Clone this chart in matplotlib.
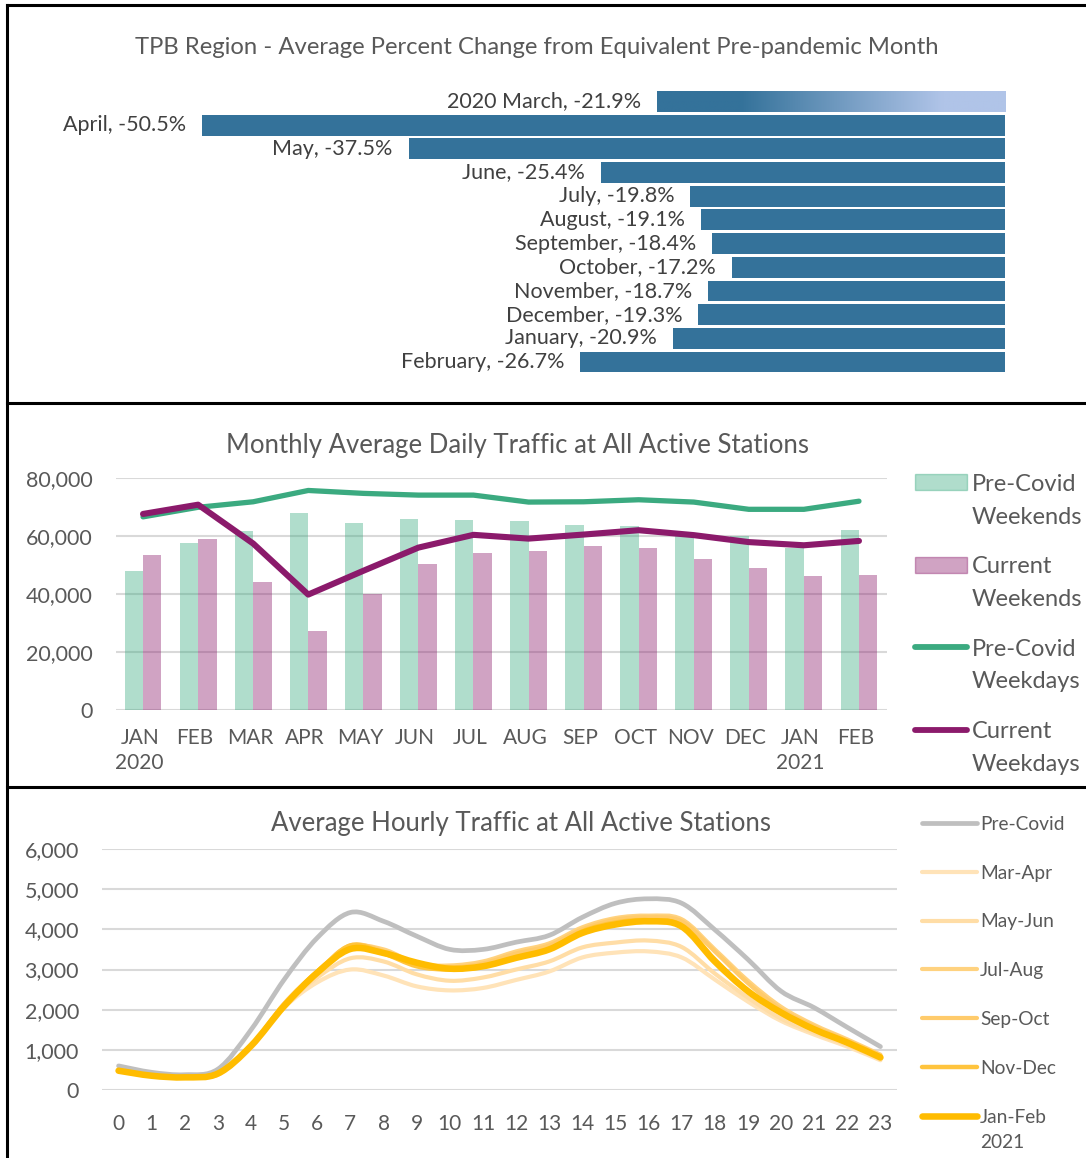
import numpy as np
import matplotlib
matplotlib.use('Agg')
import matplotlib.pyplot as plt
from matplotlib.path import Path
from matplotlib.patches import PathPatch, Rectangle
from matplotlib.lines import Line2D
from matplotlib.colors import LinearSegmentedColormap

plt.rcParams['font.family'] = ['Lato', 'DejaVu Sans']

#--- data: percent change from pre-pandemic month
pct_labels = ['2020 March', 'April', 'May', 'June', 'July', 'August', 'September',
              'October', 'November', 'December', 'January', 'February']
pct_values = [-21.9, -50.5, -37.5, -25.4, -19.8, -19.1, -18.4, -17.2, -18.7, -19.3, -20.9, -26.7]

#--- data: monthly average daily traffic
months = ['JAN\n2020', 'FEB', 'MAR', 'APR', 'MAY', 'JUN', 'JUL', 'AUG', 'SEP', 'OCT',
          'NOV', 'DEC', 'JAN\n2021', 'FEB']
pre_weekends = [47900, 57500, 61700, 67800, 64500, 66000, 65600, 65200, 63800, 63600,
                60100, 60100, 55900, 62000]
cur_weekends = [53400, 59000, 44100, 27400, 39900, 50500, 54000, 54700, 56400, 56000,
                52200, 49100, 46300, 46700]
pre_weekdays = [66600, 69900, 71800, 75700, 74700, 74100, 74100, 71700, 71800, 72500,
                71700, 69200, 69200, 72000]
cur_weekdays = [67600, 70800, 57400, 39800, 48000, 56000, 60400, 59100, 60500, 62000,
                60300, 57900, 56800, 58300]

#--- data: average hourly traffic
hours = list(range(24))
hourly_names = ['Pre-Covid', 'Mar-Apr', 'May-Jun', 'Jul-Aug', 'Sep-Oct', 'Nov-Dec', 'Jan-Feb\n2021']
pre_covid = [600, 440, 380, 520, 1500, 2750, 3790, 4420, 4200, 3830, 3500, 3500, 3680, 3850,
             4300, 4650, 4760, 4650, 3990, 3250, 2460, 2050, 1560, 1080]
mar_apr = [470, 350, 310, 380, 1050, 2050, 2680, 3000, 2850, 2580, 2480, 2540, 2740, 2950,
           3300, 3420, 3450, 3300, 2750, 2200, 1720, 1380, 1080, 740]
may_jun = [480, 350, 310, 390, 1080, 2100, 2800, 3280, 3200, 2880, 2720, 2800, 3000, 3200,
           3550, 3670, 3720, 3560, 2900, 2300, 1780, 1430, 1120, 770]
jul_aug = [500, 360, 320, 400, 1100, 2150, 2950, 3560, 3500, 3150, 3100, 3200, 3450, 3650,
           4050, 4280, 4340, 4250, 3500, 2720, 2070, 1620, 1260, 880]
sep_oct = [500, 360, 320, 400, 1100, 2150, 2950, 3600, 3450, 3100, 3050, 3150, 3400, 3600,
           4000, 4240, 4300, 4200, 3450, 2660, 2010, 1580, 1230, 860]
nov_dec = [490, 355, 315, 405, 1100, 2120, 2930, 3600, 3400, 3080, 3000, 3080, 3300, 3500,
           3950, 4170, 4230, 4100, 3250, 2460, 1900, 1500, 1170, 820]
jan_feb = [480, 355, 315, 410, 1100, 2090, 2920, 3510, 3410, 3170, 3020, 3080, 3290, 3500,
           3910, 4120, 4200, 4070, 3200, 2460, 1930, 1510, 1180, 810]
hourly_series = [pre_covid, mar_apr, may_jun, jul_aug, sep_oct, nov_dec, jan_feb]

W, H = 1086, 1158
fig = plt.figure(figsize=(W/100, H/100), dpi=100)
txt = '#595959'

def box(l, t, r, b):
    return [l/W, 1-b/H, (r-l)/W, (b-t)/H]

def fxy(x, y):
    return x/W, 1-y/H

#panel borders
for seg in [((7, 7), (5, H)), ((7, W), (5, 5)), ((7, W), (403, 403)), ((7, W), (787, 787))]:
    fig.add_artist(Line2D([seg[0][0]/W, seg[0][1]/W], [1-seg[1][0]/H, 1-seg[1][1]/H],
                          color='black', lw=2.2, transform=fig.transFigure))

#=== top: percent change bars
bar_blue = '#34729A'
ax1 = fig.add_axes(box(10, 89.6, 1005, 373.9))
scale = (1005-202)/50.5
ypos = np.arange(len(pct_values))
ax1.barh(ypos[1:], pct_values[1:], height=0.88, color=bar_blue)
grad = LinearSegmentedColormap.from_list('g', [(0, bar_blue), (0.24, bar_blue), (0.82, '#B0C4E8'), (1, '#B0C4E8')])
ax1.imshow(np.linspace(0, 1, 256).reshape(1, -1), cmap=grad, aspect='auto',
           extent=[pct_values[0], 0, ypos[0]+0.44, ypos[0]-0.44], zorder=2)
ax1.set_xlim(-995/scale, 0)
ax1.set_ylim(11.5, -0.5)
for i, (lab, v) in enumerate(zip(pct_labels, pct_values)):
    ax1.text(v-1.0, i, f'{lab}, {v}%', ha='right', va='center', fontsize=15.5, color='#404040')
ax1.axis('off')
fig.text(*fxy(537, 48), 'TPB Region - Average Percent Change from Equivalent Pre-pandemic Month',
         ha='center', va='center', fontsize=17.2, color=txt)

#=== middle: monthly traffic
green = '#3BAA80'
purple = '#8B1A6B'
ax2 = fig.add_axes(box(115.5, 478, 886.5, 710))
x = np.arange(len(months))
bw = 0.334
ax2.bar(x-bw/2, pre_weekends, width=bw, color=green, alpha=0.4, zorder=2)
ax2.bar(x+bw/2, cur_weekends, width=bw, color=purple, alpha=0.4, zorder=2)
ax2.plot(x, pre_weekdays, color=green, lw=3.8, solid_capstyle='round', solid_joinstyle='round', zorder=3)
ax2.plot(x, cur_weekdays, color=purple, lw=4.4, solid_capstyle='round', solid_joinstyle='round', zorder=4)
ax2.set_xlim(-0.5, len(months)-0.5)
ax2.set_ylim(0, 80000)
ax2.set_yticks(range(0, 80001, 20000))
ax2.set_yticklabels([f'{v:,}' for v in range(0, 80001, 20000)])
ax2.set_xticks(x-0.06)
ax2.set_xticklabels(months, linespacing=1.3)
ax2.tick_params(length=0, labelsize=15, colors=txt)
ax2.tick_params(axis='y', pad=16.5, labelsize=15.5)
ax2.tick_params(axis='x', pad=13)
ax2.grid(axis='y', color='#D9D9D9', lw=1.5, zorder=0)
ax2.set_axisbelow(True)
for s in ax2.spines.values():
    s.set_visible(False)
fig.text(*fxy(518, 445), 'Monthly Average Daily Traffic at All Active Stations',
         ha='center', va='center', fontsize=18.5, color=txt)

#legend (middle) - va='baseline' sits on the last line, so shift by the line gap
leg2 = [('Pre-Covid\nWeekends', 'patch', green), ('Current\nWeekends', 'patch', purple),
        ('Pre-Covid\nWeekdays', 'line', green), ('Current\nWeekdays', 'line', purple)]
fs2 = 17
gap2 = 33
for k, (lab, kind, c) in enumerate(leg2):
    yc = 482 + k*82.5
    if kind == 'patch':
        fig.add_artist(Rectangle(fxy(915, yc+8), 52/W, 16/H, color=c, alpha=0.4,
                                 transform=fig.transFigure))
    else:
        fig.add_artist(Line2D([915/W, 967/W], [1-yc/H]*2, color=c, lw=4.2,
                              solid_capstyle='round', transform=fig.transFigure))
    fig.text(*fxy(972, yc+0.36*fs2*100/72+lab.count('\n')*gap2), lab, ha='left', va='baseline',
             fontsize=fs2, color=txt, linespacing=1.7)

#=== bottom: hourly traffic
def smooth_path(xs, ys):
    pts = np.column_stack([xs, ys]).astype(float)
    n = len(pts)
    verts = [pts[0]]
    codes = [Path.MOVETO]
    for i in range(n-1):
        p0 = pts[max(i-1, 0)]
        p1 = pts[i]
        p2 = pts[i+1]
        p3 = pts[min(i+2, n-1)]
        verts += [p1+(p2-p0)/6, p2-(p3-p1)/6, p2]
        codes += [Path.CURVE4]*3
    return Path(verts, codes)

hourly_colors = ['#BFBFBF', '#FFE3B8', '#FFDDA6', '#FFD27F', '#FFCB6B', '#FFC43D', '#FFBC00']
hourly_lw = [3.4, 3.0, 3.0, 3.0, 3.0, 3.2, 4.7]
ax3 = fig.add_axes(box(102, 849, 897, 1090))
for ser, c, lw in zip(hourly_series, hourly_colors, hourly_lw):
    ax3.add_patch(PathPatch(smooth_path(hours, ser), fill=False, edgecolor=c, lw=lw,
                            capstyle='round', joinstyle='round', zorder=3))
ax3.set_xlim(-0.5, 23.5)
ax3.set_ylim(0, 6000)
ax3.set_xticks(hours)
ax3.set_yticks(range(0, 6001, 1000))
ax3.set_yticklabels([f'{v:,}' for v in range(0, 6001, 1000)])
ax3.tick_params(length=0, labelsize=15, colors=txt)
ax3.tick_params(axis='y', pad=16.5, labelsize=15.5)
ax3.tick_params(axis='x', pad=17)
ax3.grid(axis='y', color='#D9D9D9', lw=1.5, zorder=0)
ax3.set_axisbelow(True)
for s in ax3.spines.values():
    s.set_visible(False)
fig.text(*fxy(521, 823), 'Average Hourly Traffic at All Active Stations',
         ha='center', va='center', fontsize=18.5, color=txt)

#legend (bottom)
fs3 = 13.8
gap3 = 25
for k, (lab, c, lw) in enumerate(zip(hourly_names, hourly_colors, hourly_lw)):
    yc = 823 + k*48.8
    fig.add_artist(Line2D([922/W, 977/W], [1-yc/H]*2, color=c, lw=lw,
                          solid_capstyle='round', transform=fig.transFigure))
    fig.text(*fxy(980, yc+0.36*fs3*100/72+lab.count('\n')*gap3), lab, ha='left', va='baseline',
             fontsize=fs3, color=txt, linespacing=1.52)

fig.savefig('out.png', dpi=100)
